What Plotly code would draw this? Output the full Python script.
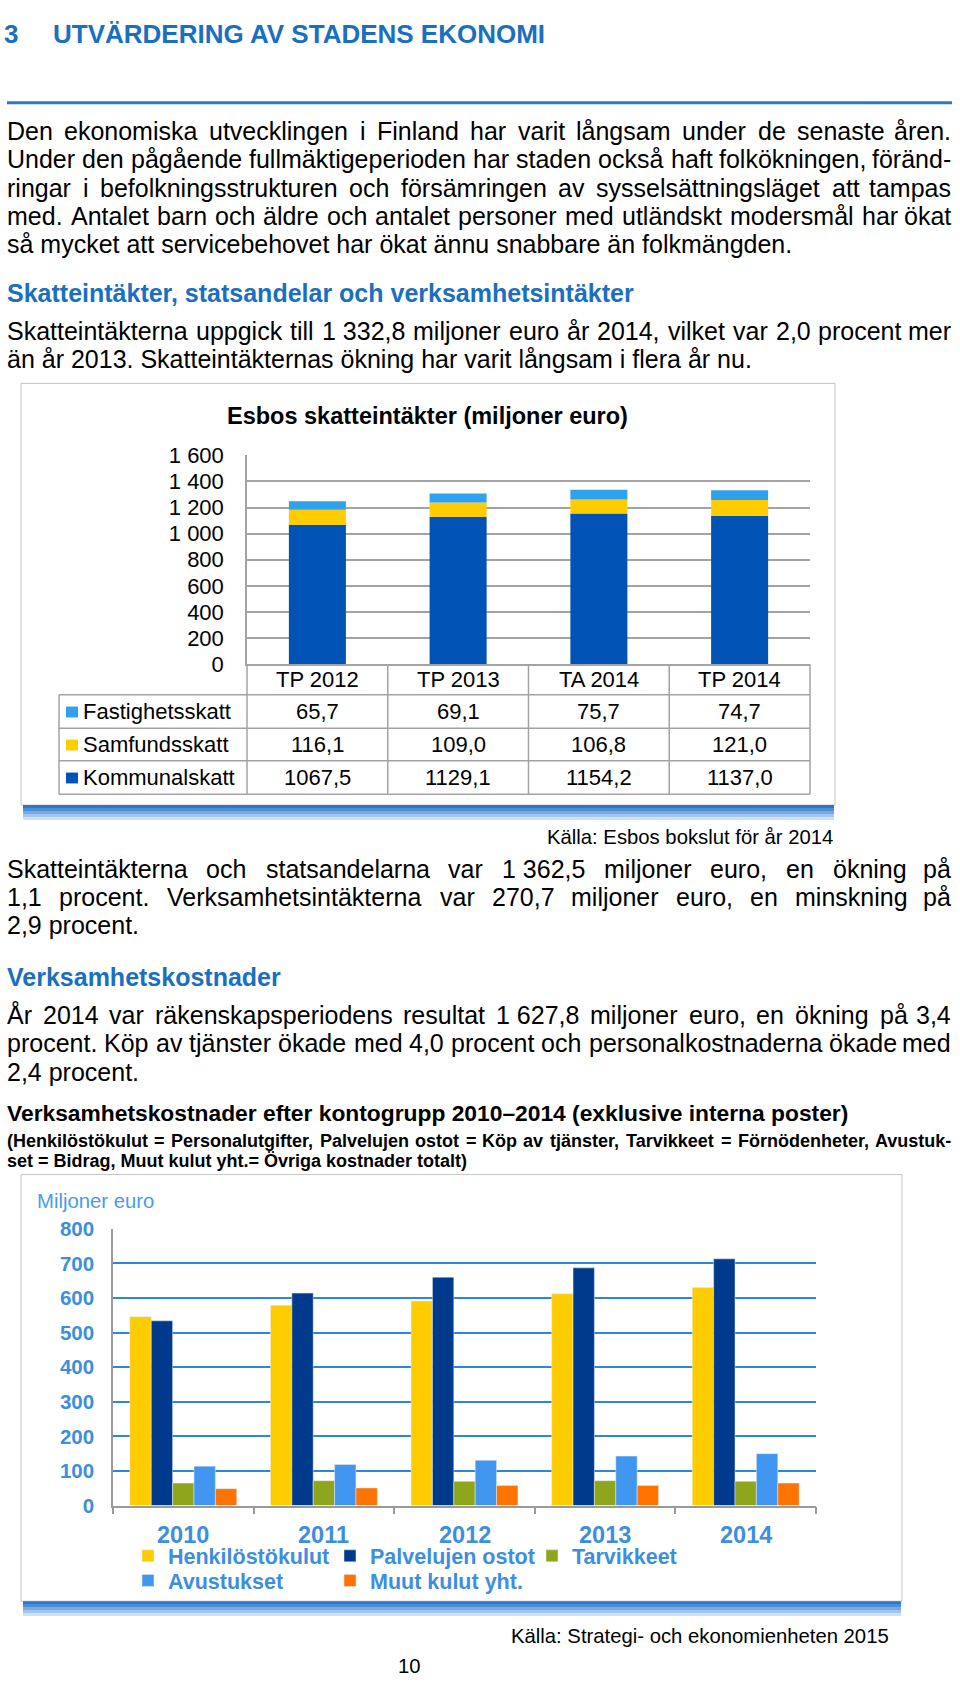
import plotly.graph_objects as go

W, H = 960, 1692
FONT = "Liberation Sans, Arial, sans-serif"
HEAD_BLUE = "#1a6fc0"
CHART_BLUE = "#3d8ede"

# Esbos skatteintäkter (miljoner euro)
skatt_kategorier = ["TP 2012", "TP 2013", "TA 2014", "TP 2014"]
kommunalskatt = [1067.5, 1129.1, 1154.2, 1137.0]
samfundsskatt = [116.1, 109.0, 106.8, 121.0]
fastighetsskatt = [65.7, 69.1, 75.7, 74.7]
skatt_yticks = [0, 200, 400, 600, 800, 1000, 1200, 1400, 1600]
skatt_yticktext = ["0", "200", "400", "600", "800", "1 000", "1 200", "1 400", "1 600"]

# Verksamhetskostnader efter kontogrupp (miljoner euro)
kost_ar = ["2010", "2011", "2012", "2013", "2014"]
henkilostokulut = [546, 579, 591, 612, 630]
palvelujen_ostot = [534, 614, 660, 687, 713]
tarvikkeet = [65, 72, 70, 72, 70]
avustukset = [114, 119, 131, 143, 150]
muut_kulut = [49, 51, 58, 58, 65]
kost_yticks = [0, 100, 200, 300, 400, 500, 600, 700, 800]

NB = "\u00a0"
para1 = [
    "Den ekonomiska utvecklingen i Finland har varit långsam under de senaste åren.",
    "Under den pågående fullmäktigeperioden har staden också haft folkökningen, föränd-",
    "ringar i befolkningsstrukturen och försämringen av sysselsättningsläget att tampas",
    "med. Antalet barn och äldre och antalet personer med utländskt modersmål har ökat",
    "så mycket att servicebehovet har ökat ännu snabbare än folkmängden.",
]
para2 = [
    "Skatteintäkterna uppgick till 1" + NB + "332,8 miljoner euro år 2014, vilket var 2,0 procent mer",
    "än år 2013. Skatteintäkternas ökning har varit långsam i flera år nu.",
]
para3 = [
    "Skatteintäkterna och statsandelarna var 1" + NB + "362,5 miljoner euro, en ökning på",
    "1,1 procent. Verksamhetsintäkterna var 270,7 miljoner euro, en minskning på",
    "2,9 procent.",
]
para4 = [
    "År 2014 var räkenskapsperiodens resultat 1" + NB + "627,8 miljoner euro, en ökning på 3,4",
    "procent. Köp av tjänster ökade med 4,0 procent och personalkostnaderna ökade med",
    "2,4 procent.",
]
note = [
    "(Henkilöstökulut = Personalutgifter, Palvelujen ostot = Köp av tjänster, Tarvikkeet = Förnödenheter, Avustuk-",
    "set = Bidrag, Muut kulut yht.= Övriga kostnader totalt)",
]

# Arial / Liberation Sans advance widths (1/1000 em), used to justify lines
REG = dict(zip("abcdefghijklmnopqrstuvwxyz",
               [556, 556, 500, 556, 556, 278, 556, 556, 222, 222, 500, 222, 833,
                556, 556, 556, 556, 333, 500, 278, 556, 500, 722, 500, 500, 500]))
REG.update(zip("ABCDEFGHIJKLMNOPQRSTUVWXYZ",
               [667, 667, 722, 722, 667, 611, 778, 722, 278, 500, 667, 556, 833,
                722, 778, 667, 778, 722, 667, 611, 722, 667, 944, 667, 667, 611]))
REG.update({" ": 278, NB: 278, ",": 278, ".": 278, "-": 333, "(": 333, ")": 333,
            "=": 584, ":": 278, "–": 556, "å": 556, "ä": 556, "ö": 556,
            "Å": 667, "Ä": 667, "Ö": 778})
BOLD = dict(zip("abcdefghijklmnopqrstuvwxyz",
                [556, 611, 556, 611, 556, 333, 611, 611, 278, 278, 556, 278, 889,
                 611, 611, 611, 611, 389, 556, 333, 611, 556, 778, 556, 556, 500]))
BOLD.update(zip("ABCDEFGHIJKLMNOPQRSTUVWXYZ",
                [722, 722, 722, 722, 667, 611, 778, 722, 278, 556, 722, 611, 833,
                 722, 778, 667, 778, 722, 667, 611, 722, 667, 944, 667, 667, 611]))
BOLD.update({" ": 278, NB: 278, ",": 278, ".": 278, "-": 333, "(": 333, ")": 333,
             "=": 584, ":": 333, "–": 556, "å": 556, "ä": 556, "ö": 611,
             "Å": 722, "Ä": 722, "Ö": 778})


def px(x):
    return x / W


def py(y):
    return 1 - y / H


def text_w(s, size, bold=False):
    tab = BOLD if bold else REG
    return sum(tab.get(c, 556) for c in s) * size / 1000


def add_text(fig, text, x, y, size, color="black", bold=False, anchor="left", xref="paper"):
    fig.add_annotation(x=px(x) if xref == "paper" else x, y=py(y), xref=xref, yref="paper",
                       text=text, showarrow=False, xanchor=anchor, yanchor="middle",
                       borderpad=0,
                       font=dict(family=FONT, size=size, color=color,
                                 weight="bold" if bold else "normal"))


def add_line(fig, text, y, size=25, bold=False, color="black", justify=False,
             x0=6, x1=952):
    if not justify:
        add_text(fig, text, x0, y, size, color, bold)
        return
    words = text.split(" ")
    widths = [text_w(w, size, bold) for w in words]
    gap = (x1 - x0 - sum(widths)) / (len(words) - 1)
    x = x0
    for i, (w, wd) in enumerate(zip(words, widths)):
        if i == len(words) - 1:
            add_text(fig, w, x1, y, size, color, bold, anchor="right")
        else:
            add_text(fig, w, x, y, size, color, bold)
        x += wd + gap


def add_para(fig, lines, y0, step, size=25, bold=False):
    for i, line in enumerate(lines):
        add_line(fig, line, y0 + i * step, size, bold,
                 justify=(i < len(lines) - 1))


def add_box(fig, x0, y0, x1, y1):
    fig.add_shape(type="rect", xref="paper", yref="paper", layer="below",
                  x0=px(x0), x1=px(x1), y0=py(y1), y1=py(y0),
                  fillcolor="white", line=dict(color="#c4c4c4", width=1))
    # blue drop shadow under the frame
    for k, a in enumerate([0.95, 0.8, 0.6, 0.4, 0.22]):
        fig.add_shape(type="rect", xref="paper", yref="paper", layer="below",
                      x0=px(x0 + 2), x1=px(x1 - 1), y0=py(y1 + 3 * k + 3), y1=py(y1 + 3 * k),
                      fillcolor=f"rgba(30,112,204,{a})", line=dict(width=0))


fig = go.Figure()

# ---- chart 1: stacked via base, all in one offsetgroup
stack_cols = [("Kommunalskatt", kommunalskatt, "#0052b4"),
              ("Samfundsskatt", samfundsskatt, "#ffcc00"),
              ("Fastighetsskatt", fastighetsskatt, "#2ea2ee")]
base = [0] * len(skatt_kategorier)
for name, vals, col in stack_cols:
    fig.add_trace(go.Bar(x=skatt_kategorier, y=vals, base=list(base), name=name,
                         marker=dict(color=col, line=dict(width=0)),
                         offsetgroup="skatt", width=0.405, offset=-0.2025,
                         xaxis="x", yaxis="y", showlegend=False))
    base = [b + v for b, v in zip(base, vals)]

# ---- chart 2: grouped bars
kost_series = [("Henkilöstökulut", henkilostokulut, "#ffcc00", "legend"),
               ("Palvelujen ostot", palvelujen_ostot, "#003a8c", "legend"),
               ("Tarvikkeet", tarvikkeet, "#8fa61c", "legend"),
               ("Avustukset", avustukset, "#4196f0", "legend2"),
               ("Muut kulut yht.", muut_kulut, "#ff7300", "legend2")]
for name, vals, col, lg in kost_series:
    fig.add_trace(go.Bar(x=kost_ar, y=vals, name=name, marker=dict(color=col),
                         xaxis="x2", yaxis="y2", legend=lg))

# ---- page text
add_text(fig, "3", 3, 22, 26, HEAD_BLUE, True)
add_text(fig, "UTVÄRDERING AV STADENS EKONOMI", 52, 22, 26, HEAD_BLUE, True)
fig.add_shape(type="line", xref="paper", yref="paper", x0=px(7), x1=px(952),
              y0=py(92), y1=py(92), line=dict(color="#2a78c6", width=3))
add_para(fig, para1, 121, 28.7)
add_text(fig, "Skatteintäkter, statsandelar och verksamhetsintäkter", 6, 285, 25, HEAD_BLUE, True)
add_para(fig, para2, 324, 28)

# chart 1 frame, title, table
add_box(fig, 21, 377, 835, 805)
add_text(fig, "Esbos skatteintäkter (miljoner euro)", 427, 410, 23.5, "black", True, "center")
tab_left, plot_left, plot_right = 59, 247, 810
col_w = (plot_right - plot_left) / len(skatt_kategorier)
row_y = [662, 693, 727, 760, 794]
grey = "#a3a3a3"
for i, cat in enumerate(skatt_kategorier):
    add_text(fig, cat, plot_left + col_w * (i + 0.5), (row_y[0] + row_y[1]) / 2, 22, "black", False, "center")
for yv in row_y[1:]:
    fig.add_shape(type="line", xref="paper", yref="paper", x0=px(tab_left), x1=px(plot_right),
                  y0=py(yv), y1=py(yv), line=dict(color=grey, width=1.5))
for i in range(len(skatt_kategorier) + 1):
    xv = plot_left + col_w * i
    fig.add_shape(type="line", xref="paper", yref="paper", x0=px(xv), x1=px(xv),
                  y0=py(row_y[0]), y1=py(row_y[-1]), line=dict(color=grey, width=1.5))
fig.add_shape(type="line", xref="paper", yref="paper", x0=px(tab_left), x1=px(tab_left),
              y0=py(row_y[1]), y1=py(row_y[-1]), line=dict(color=grey, width=1.5))
for r, (name, vals, col) in enumerate(reversed(stack_cols)):
    yc = (row_y[r + 1] + row_y[r + 2]) / 2
    fig.add_shape(type="rect", xref="paper", yref="paper", x0=px(66), x1=px(78),
                  y0=py(yc + 6), y1=py(yc - 5), fillcolor=col, line=dict(width=0))
    add_text(fig, name, 82, yc, 22)
    for i, v in enumerate(vals):
        add_text(fig, f"{v:.1f}".replace(".", ","), plot_left + col_w * (i + 0.5), yc, 22,
                 "black", False, "center")
add_text(fig, "Källa: Esbos bokslut för år 2014", 834, 837, 20.3, "black", False, "right")

add_para(fig, para3, 869.5, 28.6)
add_text(fig, "Verksamhetskostnader", 6, 979, 25, HEAD_BLUE, True)
add_para(fig, para4, 1018, 28.8)
add_text(fig, "Verksamhetskostnader efter kontogrupp 2010–2014 (exklusive interna poster)",
         6, 1118, 22.8, "black", True)
add_para(fig, note, 1145.5, 21, size=18, bold=True)

# chart 2 frame and texts; year labels sit on the category scale (index positions)
add_box(fig, 21, 1180, 902, 1613)
add_text(fig, "Miljoner euro", 36, 1207, 20.3, "#4a9be8")
for i, ar in enumerate(kost_ar):
    add_text(fig, ar, i, 1546, 23.5, CHART_BLUE, True, "center", xref="x2")
add_text(fig, "Källa: Strategi- och ekonomienheten 2015", 890, 1648, 20.3, "black", False, "right")
add_text(fig, "10", 409, 1679, 20.3, "black", False, "center")

legend_style = dict(orientation="h", x=px(128), xanchor="left", yanchor="middle",
                    entrywidth=157, entrywidthmode="pixels", bgcolor="rgba(0,0,0,0)",
                    font=dict(size=21.5, color=CHART_BLUE, weight="bold"))

fig.update_layout(
    width=W, height=H, margin=dict(l=0, r=0, t=0, b=0),
    paper_bgcolor="white", plot_bgcolor="rgba(0,0,0,0)",
    barmode="group", bargap=0.24, bargroupgap=0,
    font=dict(family=FONT, color="black"),
    xaxis=dict(domain=[px(247), px(810)], anchor="y", type="category",
               showticklabels=False, showgrid=False, showline=True,
               linecolor=grey, linewidth=1.5),
    yaxis=dict(domain=[py(662), py(450)], anchor="x", range=[0, 1600],
               tickvals=skatt_yticks, ticktext=skatt_yticktext,
               tickfont=dict(size=22, color="black"), ticklabelstandoff=17,
               showgrid=True, gridcolor=grey, gridwidth=1.5, zeroline=False,
               showline=True, linecolor=grey, linewidth=1.5),
    xaxis2=dict(domain=[px(113), px(816)], anchor="y2", type="category",
                range=[-0.5, len(kost_ar) - 0.5],
                showgrid=False, showline=True, linecolor="#9a9a9a", linewidth=1.5,
                ticks="outside", tickson="boundaries", ticklen=7, tickcolor="#9a9a9a",
                tickwidth=1.5, showticklabels=False),
    yaxis2=dict(domain=[py(1516), py(1235)], anchor="x2", range=[0, 800],
                tickvals=kost_yticks, ticklabelstandoff=13,
                tickfont=dict(size=20.5, color=CHART_BLUE, weight="bold"),
                showgrid=True, gridcolor="#2c88d4", gridwidth=2, zeroline=False,
                showline=True, linecolor="#9a9a9a", linewidth=1.5),
    legend=dict(legend_style, y=py(1567)),
    legend2=dict(legend_style, y=py(1592)),
)

fig.write_html("out.html", config={"displayModeBar": False},
               post_script="document.body.style.margin='0';document.body.style.overflow='hidden';")
